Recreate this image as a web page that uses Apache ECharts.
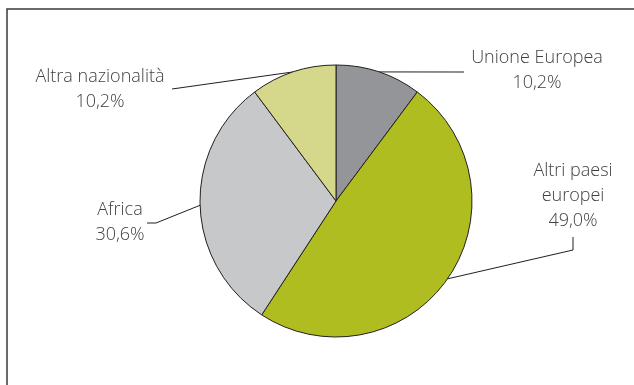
<!DOCTYPE html>
<html>
<head>
<meta charset="utf-8">
<script src="https://cdn.jsdelivr.net/npm/echarts@6/dist/echarts.min.js"></script>
<style>html,body{margin:0;padding:0;background:#fff;}#c{width:634px;height:385px;}</style>
</head>
<body>
<div id="c"></div>
<script>
const categories = ['Unione Europea', 'Altri paesi\neuropei', 'Africa', 'Altra nazionalità'];
const values = [10.2, 49.0, 30.6, 10.2];
const colors = ['#939598', '#afbd21', '#c7c8ca', '#d5d88b'];

// label placement (layout only): label centre and leader-line elbow/end
const labelPos = [
  {x: 537, y: 70, elbow: [464, 72], end: [464, 72]},
  {x: 573, y: 196, elbow: [573, 250], end: [573, 237]},
  {x: 120, y: 222, elbow: [156, 223], end: [147, 223]},
  {x: 100, y: 89, elbow: [172, 89], end: [172, 89]}
];

const chart = echarts.init(document.getElementById('c'), null, {renderer: 'canvas'});
chart.setOption({
  backgroundColor: '#ffffff',
  animation: false,
  graphic: [{
    type: 'rect',
    shape: {x: 7, y: 9, width: 700, height: 500},
    style: {fill: 'none', stroke: '#3a3a3a', lineWidth: 1.5},
    silent: true
  }],
  series: [{
    type: 'pie',
    center: [336, 201],
    radius: 136,
    startAngle: 90,
    clockwise: true,
    data: categories.map((n, i) => ({name: n, value: values[i], itemStyle: {color: colors[i]}})),
    itemStyle: {borderColor: '#231f20', borderWidth: 1},
    label: {
      show: true,
      position: 'outside',
      formatter: p => p.name + '\n' + p.value.toFixed(1).replace('.', ',') + '%',
      fontFamily: 'Open Sans',
      fontSize: 18,
      fontWeight: 300,
      lineHeight: 25,
      color: '#414042',
      align: 'center'
    },
    labelLine: {show: true, lineStyle: {color: '#231f20', width: 1}},
    labelLayout: function (params) {
      const lp = labelPos[params.dataIndex];
      const start = params.labelLinePoints ? params.labelLinePoints[0] : lp.elbow;
      return {
        x: lp.x,
        y: lp.y,
        align: 'center',
        verticalAlign: 'middle',
        labelLinePoints: [start, lp.elbow, lp.end]
      };
    }
  }]
});
</script>
</body>
</html>
